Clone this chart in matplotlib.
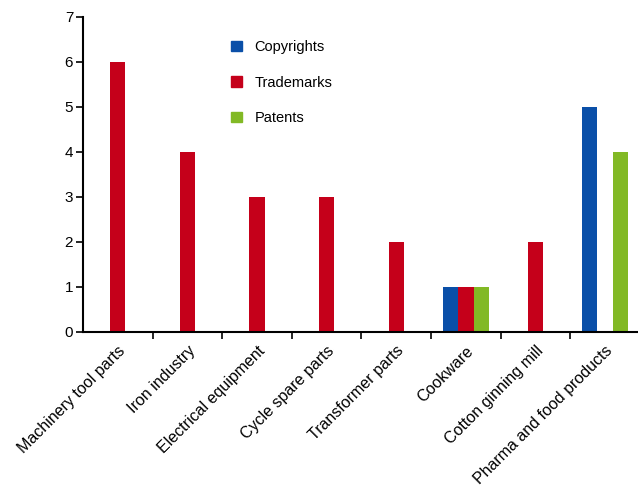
import matplotlib
matplotlib.use("Agg")
import matplotlib.pyplot as plt
import numpy as np
from matplotlib.patches import Patch

plt.rcParams['font.family'] = ['Liberation Sans', 'DejaVu Sans']

categories = ["Machinery tool parts", "Iron industry", "Electrical equipment",
              "Cycle spare parts", "Transformer parts", "Cookware",
              "Cotton ginning mill", "Pharma and food products"]
copyrights = [0, 0, 0, 0, 0, 1, 0, 5]
trademarks = [6, 4, 3, 3, 2, 1, 2, 0]
patents = [0, 0, 0, 0, 0, 1, 0, 4]

c_blue = '#0a4fa8'
c_red = '#c5001a'
c_green = '#82b925'

fig = plt.figure(figsize=(6.38, 4.97), dpi=100)
ax = fig.add_axes([0.130, 0.332, 0.873, 0.634])

x = np.arange(len(categories))
w = 0.22
ax.bar(x - w, copyrights, w, color=c_blue)
ax.bar(x, trademarks, w, color=c_red)
ax.bar(x + w, patents, w, color=c_green)

ax.set_xlim(-0.5, len(categories) - 0.5)
ax.set_ylim(0, 7)
ax.set_yticks(range(8))
ax.set_xticks(x[:-1] + 0.5)
ax.set_xticklabels([])
ax.set_xticks(x, minor=True)
ax.set_xticklabels(categories, minor=True, rotation=45, ha='right',
                   rotation_mode='anchor', fontsize=11.5)
ax.tick_params(axis='x', which='minor', length=0, pad=8)
ax.tick_params(axis='x', which='major', length=5, width=1.2, direction='out')
ax.tick_params(axis='y', length=5, width=1.2, labelsize=11, pad=2)

for s in ['top', 'right']:
    ax.spines[s].set_visible(False)
for s in ['left', 'bottom']:
    ax.spines[s].set_linewidth(1.5)

handles = [Patch(color=c_blue, label='Copyrights'),
           Patch(color=c_red, label='Trademarks'),
           Patch(color=c_green, label='Patents')]
fig.legend(handles=handles, loc='upper left', bbox_to_anchor=(0.342, 0.945),
           frameon=False, fontsize=10.5, handlelength=0.7, handleheight=0.7,
           handletextpad=0.9, labelspacing=1.45)

fig.savefig('out.png', dpi=100)
